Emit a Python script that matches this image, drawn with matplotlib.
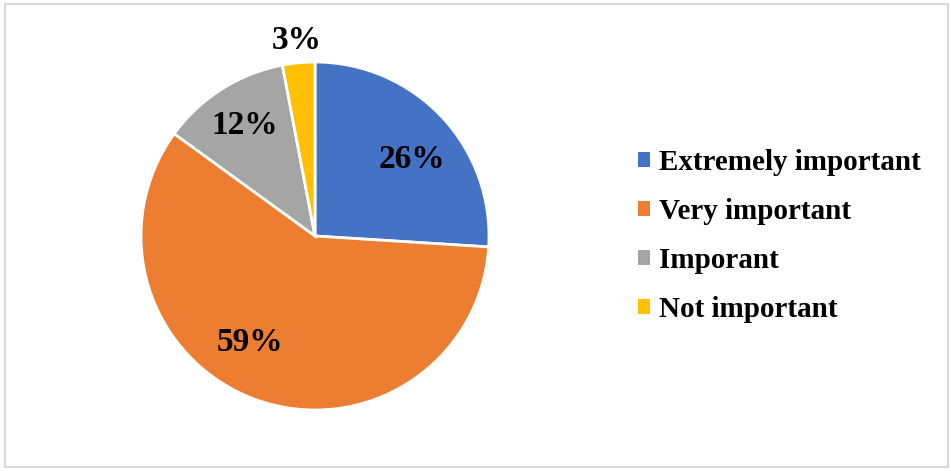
import matplotlib
matplotlib.use("Agg")
import matplotlib.pyplot as plt
from matplotlib.patches import Rectangle, Patch
import numpy as np

categories = ["Extremely important", "Very important", "Imporant", "Not important"]
values = [26, 59, 12, 3]
colors = ["#4472C4", "#ED7D31", "#A5A5A5", "#FFC000"]
label_dist = [0.71, 0.715, 0.75, 1.13]
label_angle_shift = [-5.0, -11.7, 0.0, 0.0]

plt.rcParams['font.family'] = ['Liberation Serif', 'DejaVu Serif']

W, H = 951, 471
fig = plt.figure(figsize=(W / 100, H / 100), dpi=100)
fig.patches.append(Rectangle((4.5 / W, 4.5 / H), (948 - 4.5) / W, (467 - 4.5) / H,
                             transform=fig.transFigure, fill=False,
                             edgecolor="#D9D9D9", linewidth=1.5))

cx, cy, r = 315, 236, 174
ax = fig.add_axes([(cx - r) / W, (H - cy - r) / H, 2 * r / W, 2 * r / H])
wedges, texts = ax.pie(values, colors=colors, startangle=90, counterclock=False,
                       wedgeprops=dict(edgecolor="white", linewidth=2))
total = sum(values)
start = 90.0
for v, d, sh in zip(values, label_dist, label_angle_shift):
    span = 360.0 * v / total
    mid = np.deg2rad(start - span / 2 + sh)
    ax.text(d * np.cos(mid), d * np.sin(mid), f"{v}%", ha="center", va="center",
            fontsize=24, fontweight="bold", color="black")
    start -= span
ax.set_xlim(-1, 1)
ax.set_ylim(-1, 1)
ax.set_aspect("equal")
ax.axis("off")

handles = [Patch(facecolor=c, edgecolor="none") for c in colors]
fig.legend(handles, categories, loc="center left",
           bbox_to_anchor=(612 / W, (H - 236) / H), frameon=False,
           prop=dict(size=21, weight="bold"), handlelength=0.4, handleheight=0.4,
           handletextpad=0.3, labelspacing=0.76)

fig.savefig("out.png", dpi=100)
